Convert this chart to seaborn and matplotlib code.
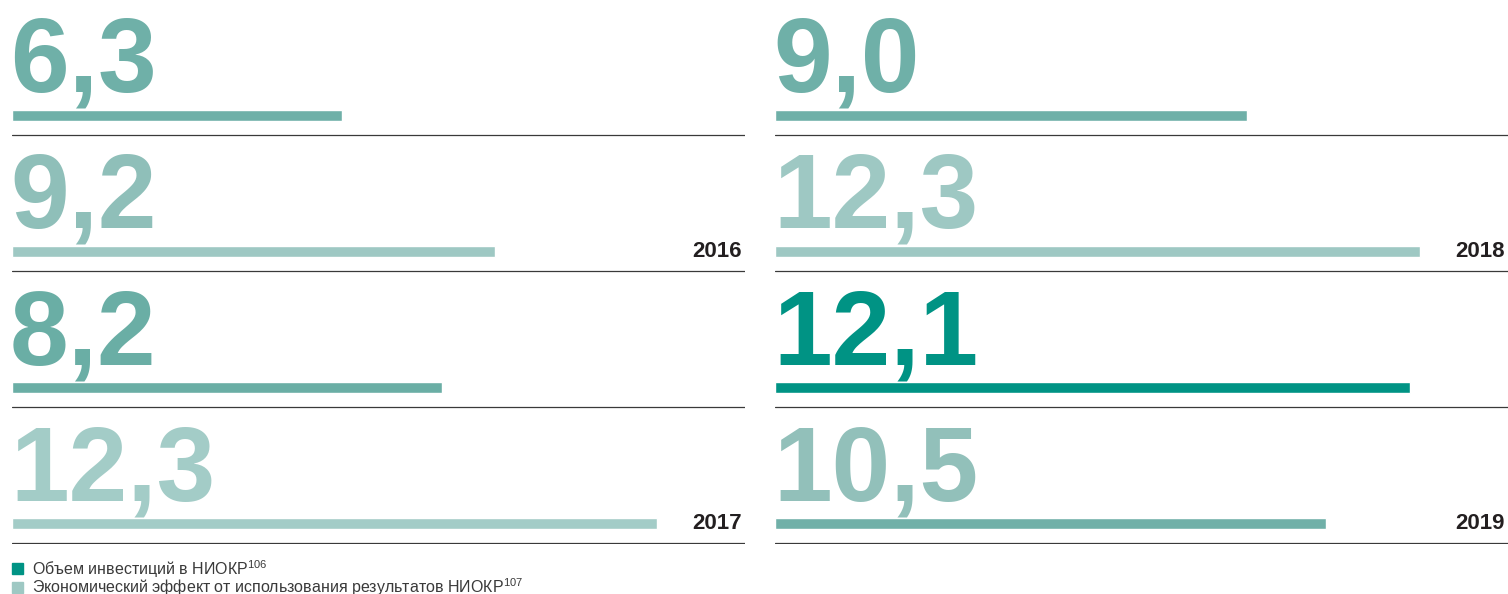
import matplotlib.pyplot as plt
import matplotlib.transforms as mtransforms
from matplotlib.patches import Rectangle
import pandas as pd
import seaborn as sns

years = ["2016", "2017", "2018", "2019"]
investments = [6.3, 8.2, 9.0, 12.1]
effect = [9.2, 12.3, 12.3, 10.5]
legend_labels = ["Объем инвестиций в НИОКР",
                 "Экономический эффект от использования результатов НИОКР"]
footnotes = ["106", "107"]

# colours in drawing order: left column top->bottom, then right column
bar_colors = ["#6fb0a8", "#9ec8c3", "#6aaea5", "#a3ccc7",
              "#6fb0a8", "#9ec8c3", "#009384", "#70b0a8"]
text_colors = ["#6fb0a8", "#8fbfb9", "#6aaea5", "#a3ccc7",
               "#6fb0a8", "#9ec8c3", "#009384", "#92c0ba"]
legend_colors = ["#009384", "#9ec8c3"]

sns.set_theme(style="white")
plt.rcParams["font.family"] = ["Liberation Sans", "DejaVu Sans"]
plt.rcParams["mathtext.fontset"] = "custom"
plt.rcParams["mathtext.rm"] = "Liberation Sans"
plt.rcParams["mathtext.default"] = "regular"

W, H = 1508, 594
fig = plt.figure(figsize=(W / 100, H / 100), dpi=100)

rows = []
for i, y in enumerate(years):
    rows.append(dict(col=i // 2, key=f"{y} inv", value=investments[i], year=y))
    rows.append(dict(col=i // 2, key=f"{y} eff", value=effect[i], year=y))
df = pd.DataFrame(rows)

for c, left in enumerate([12, 775]):
    sub = df[df["col"] == c].reset_index(drop=True)
    ax = fig.add_axes([left / W, 50 / H, 733 / W, 544 / H])
    sns.barplot(data=sub, x="value", y="key", hue="key", orient="h",
                palette=bar_colors[4 * c:4 * c + 4], legend=False,
                width=0.081, saturation=1, ax=ax)
    ax.set_xlim(0, 13.975)
    ax.set_ylim(3.15, -0.849)
    ax.axis("off")
    trans = mtransforms.blended_transform_factory(ax.transAxes, ax.transData)
    for k, r in sub.iterrows():
        ax.axhline(k + 0.145, color="#3a3a3a", lw=0.9)
        ax.text(-0.04, k - 0.173, f"{r['value']:.1f}".replace(".", ","),
                fontsize=76, fontweight="bold", color=text_colors[4 * c + k],
                ha="left", va="baseline", clip_on=False)
        if k % 2 == 1:
            ax.text(0.996, k + 0.04, r["year"], transform=trans,
                    fontsize=16, fontweight="bold", color="#231f20",
                    ha="right", va="baseline")

for i, (lab, fn) in enumerate(zip(legend_labels, footnotes)):
    base = 575 + 18.5 * i
    fig.add_artist(Rectangle((12 / W, (H - base + 1) / H), 11 / W, 11 / H,
                             transform=fig.transFigure, color=legend_colors[i]))
    fig.text(32 / W, (H - base) / H, lab + "$^{" + fn + "}$",
             fontsize=11.5, color="#3a3a3a", ha="left", va="baseline")

fig.savefig("out.png", dpi=100)
